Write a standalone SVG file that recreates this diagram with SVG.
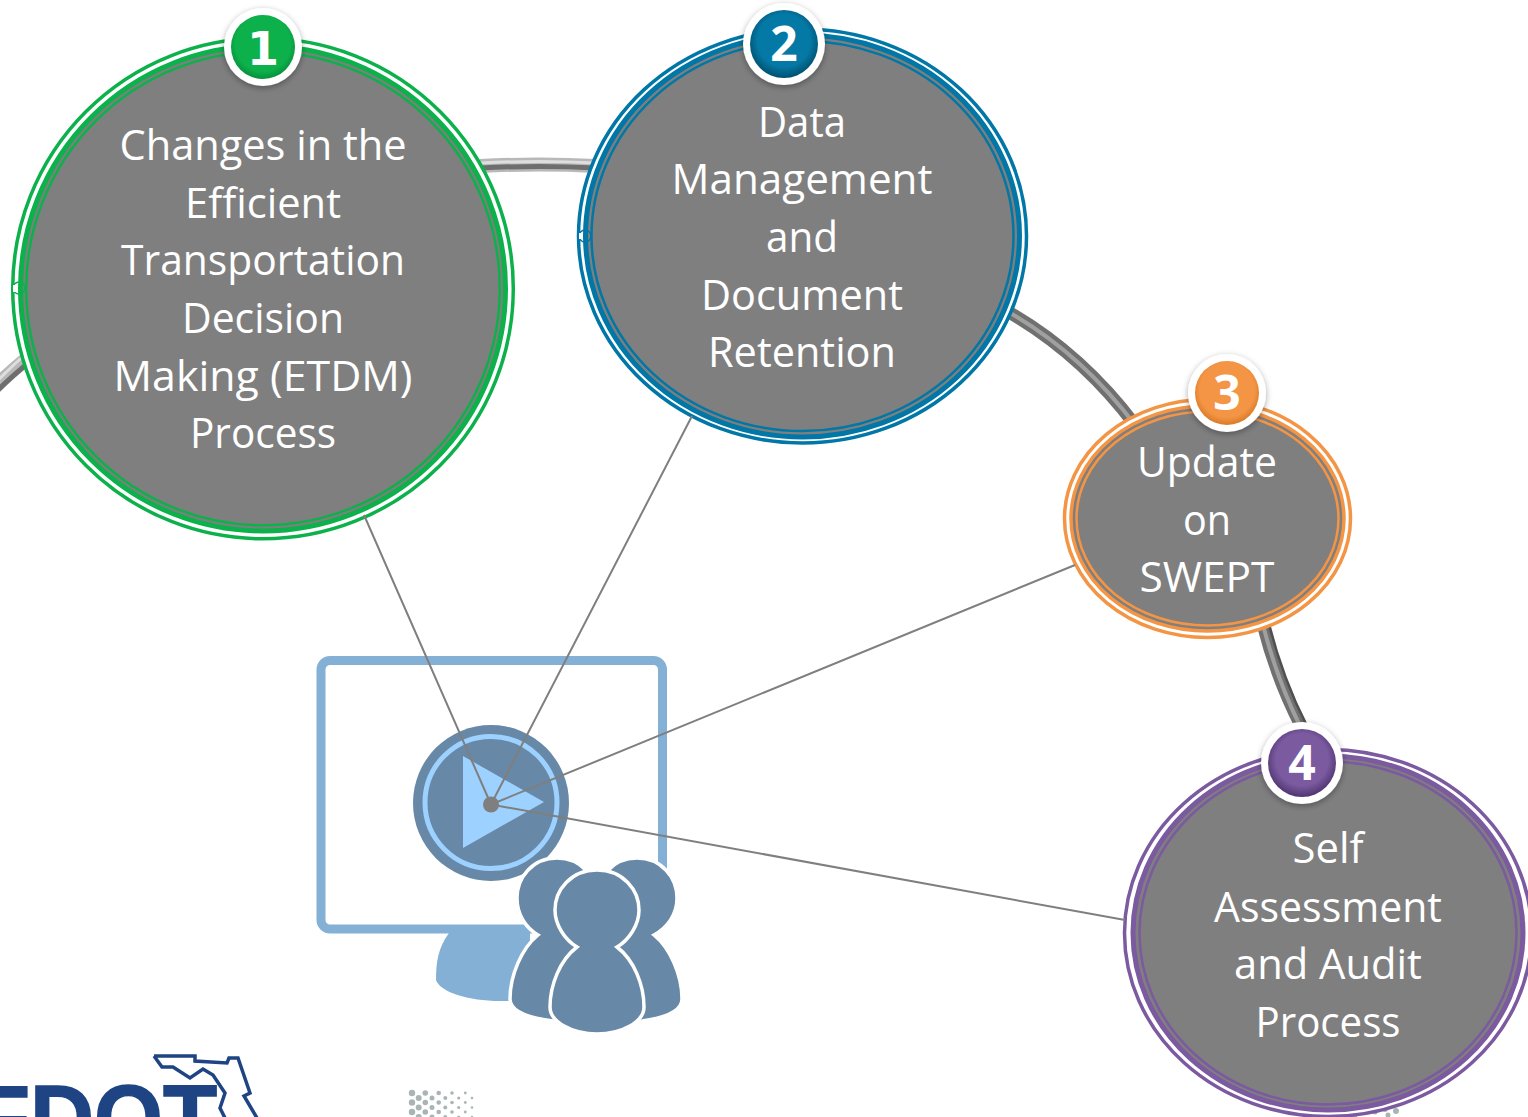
<svg xmlns="http://www.w3.org/2000/svg" width="1528" height="1117" viewBox="0 0 1528 1117">
<style>
.t{font-family:"Open Sans","Noto Sans",sans-serif;font-size:41.500px;fill:#fff;text-anchor:middle}
.n{font-family:"Open Sans",sans-serif;font-weight:700;font-size:48px;fill:#fff;text-anchor:middle}
.n1{font-family:"DejaVu Sans",sans-serif;font-weight:700;font-size:46px;fill:#fff;text-anchor:middle}
.lead{stroke:#7f7f7f;stroke-width:2;fill:none}
.a{stroke:#b8b8b8;stroke-width:14;fill:none}
.b{stroke:#dedede;stroke-width:3;fill:none}
.c{stroke:#6e6e6e;stroke-width:5;fill:none}
.d{stroke:#707070;stroke-width:12.500;fill:none}
.e{stroke:#a0a0a0;stroke-width:4;fill:none}
.f{stroke:#505050;stroke-width:2.500;fill:none}
.user{fill:#6788a6;stroke:#fff;stroke-width:3.500}
.dot{fill:#a9b5b5}
.gray{fill:#7f7f7f}
</style>
<defs>
<filter id="sh" x="-30%" y="-30%" width="160%" height="160%"><feDropShadow dx="0" dy="2" stdDeviation="3" flood-color="#000" flood-opacity=".35"/></filter>
<radialGradient id="g1" cx=".5" cy=".45" r=".55"><stop offset=".78" stop-color="#0db14b"/><stop offset="1" stop-color="#07903b"/></radialGradient>
<radialGradient id="g2" cx=".5" cy=".45" r=".55"><stop offset=".7" stop-color="#0579a6"/><stop offset="1" stop-color="#00506f"/></radialGradient>
<radialGradient id="g3" cx=".5" cy=".45" r=".55"><stop offset=".78" stop-color="#f39545"/><stop offset="1" stop-color="#d97a28"/></radialGradient>
<radialGradient id="g4" cx=".5" cy=".45" r=".55"><stop offset=".7" stop-color="#7b5aa0"/><stop offset="1" stop-color="#4f3570"/></radialGradient>
</defs>
<g id="logo">
<text x="-24" y="1150" font-family="Liberation Sans,sans-serif" font-weight="700" font-size="92" fill="#1f4484" stroke="#1f4484" stroke-width="1.500" textLength="241" lengthAdjust="spacingAndGlyphs">FDOT</text>
<path d="M154 1056H195V1061L227 1063 229 1058H238L250 1093 244 1096 257 1118M154 1056L162 1067H173L190 1078 203 1069 213 1075 225 1093 220 1108 225 1118" fill="none" stroke="#1f4484" stroke-width="3.500"/>
</g>
<g id="halftone">
<circle class="dot" cx="412" cy="1093" r="3.200"/><circle class="dot" cx="412" cy="1102.500" r="3.200"/><circle class="dot" cx="412" cy="1112" r="3.200"/>
<circle class="dot" cx="418.700" cy="1098" r="3"/><circle class="dot" cx="418.700" cy="1107.500" r="3"/><circle class="dot" cx="418.700" cy="1117" r="3"/>
<circle class="dot" cx="425.300" cy="1093" r="2.800"/><circle class="dot" cx="425.300" cy="1102.500" r="2.800"/><circle class="dot" cx="425.300" cy="1112" r="2.800"/>
<circle class="dot" cx="432" cy="1098" r="2.500"/><circle class="dot" cx="432" cy="1107.500" r="2.500"/><circle class="dot" cx="432" cy="1117" r="2.500"/>
<circle class="dot" cx="438.700" cy="1093" r="2.300"/><circle class="dot" cx="438.700" cy="1102.500" r="2.300"/><circle class="dot" cx="438.700" cy="1112" r="2.300"/>
<circle class="dot" cx="445.300" cy="1098" r="2"/><circle class="dot" cx="445.300" cy="1107.500" r="2"/><circle class="dot" cx="445.300" cy="1117" r="2"/>
<circle class="dot" cx="452" cy="1093" r="1.800"/><circle class="dot" cx="452" cy="1102.500" r="1.800"/><circle class="dot" cx="452" cy="1112" r="1.800"/>
<circle class="dot" cx="458.700" cy="1098" r="1.600"/><circle class="dot" cx="458.700" cy="1107.500" r="1.600"/><circle class="dot" cx="458.700" cy="1117" r="1.600"/>
<circle class="dot" cx="465.300" cy="1093" r="1.400"/><circle class="dot" cx="465.300" cy="1102.500" r="1.400"/><circle class="dot" cx="465.300" cy="1112" r="1.400"/>
<circle class="dot" cx="472" cy="1098" r="1.300"/><circle class="dot" cx="472" cy="1107.500" r="1.300"/><circle class="dot" cx="472" cy="1117" r="1.300"/>
<circle class="dot" cx="1345" cy="1113" r="2.500"/><circle class="dot" cx="1355" cy="1115" r="2.500"/><circle class="dot" cx="1365" cy="1112" r="2.500"/><circle class="dot" cx="1375" cy="1112" r="2.500"/><circle class="dot" cx="1385" cy="1109" r="3"/><circle class="dot" cx="1396" cy="1111" r="3"/><circle class="dot" cx="1388" cy="1115" r="2.500"/>
<rect x="1303" y="1113" width="22" height="4" fill="#8a8f8f"/><rect x="1325" y="1113" width="5" height="4" fill="#333"/>
</g>
<g id="monitor">
<rect x="321" y="660.500" width="341.500" height="268.500" rx="9" fill="#fff" stroke="#85b0d5" stroke-width="9"/>
<path d="M449 933C438 948 436 962 436 980 440 992 468 1001 500 1001H530V933Z" fill="#85b0d5"/>
<circle cx="491" cy="803" r="78" fill="#6788a6"/>
<circle cx="491" cy="802.500" r="66" fill="none" stroke="#9dd1ff" stroke-width="5"/>
<path d="M463 756L544 802 463 848Z" fill="#9dd1ff"/>
</g>
<g id="users">
<path class="user" d="M637 858C612 858 597 878 597 898 597 915 608 928 620 935 600 945 585 975 585 1000L600 1022 642 1021C670 1017 682 1009 682 999 682 975 670 948 654 935 667 928 677 915 677 898 677 878 662 858 637 858Z"/>
<path class="user" d="M557 858C532 858 517 878 517 898 517 915 526 928 538 935 522 948 510 975 510 999 510 1009 522 1017 553 1021L590 1022 600 1000C600 975 590 945 575 935 587 928 597 915 597 898 597 878 582 858 557 858Z"/>
<path class="user" d="M597 870C571 870 555 890 555 910 555 925 565 940 577 947 560 960 550 985 550 1007 550 1022 572 1034 597 1034 622 1034 644 1022 644 1007 644 985 634 960 617 947 629 940 639 925 639 910 639 890 623 870 597 870Z"/>
</g>
<g id="connectors">
<path class="a" d="M-5 387Q10 372 30 356"/><path class="b" d="M-5 383Q10 368 28 352"/><path class="c" d="M-3 391Q12 376 32 360"/>
<path class="a" d="M480 166Q540 163 596 166"/><path class="b" d="M480 163Q540 160 596 163"/><path class="c" d="M480 168Q540 165 596 168"/>
<path class="d" d="M1005 310Q1080 352 1135 425"/><path class="e" d="M1005 310Q1080 352 1135 425"/>
<path class="d" d="M1263 625Q1277 680 1302 728"/><path class="e" d="M1263 625Q1277 680 1301 728"/><path class="f" d="M1269 624Q1283 679 1307 726"/>
</g>
<g id="node1">
<circle cx="263" cy="288.500" r="250.300" fill="#fff" stroke="#0db14b" stroke-width="3.500"/>
<circle class="gray" cx="263" cy="288.500" r="242.500" stroke="#0db14b" stroke-width="5"/>
<circle cx="263" cy="288.500" r="236.800" fill="none" stroke="#0db14b" stroke-width="2.500"/>
<circle cx="19" cy="288" r="6" fill="none" stroke="#0db14b" stroke-width="1.500"/><rect x="13" y="285" width="3" height="7" fill="#fff"/>
<text class="t" x="263" y="160" textLength="287" lengthAdjust="spacingAndGlyphs">Changes in the</text><text class="t" x="263" y="218" textLength="156" lengthAdjust="spacingAndGlyphs">Efficient</text><text class="t" x="263" y="275" textLength="284" lengthAdjust="spacingAndGlyphs">Transportation</text><text class="t" x="263" y="333" textLength="162" lengthAdjust="spacingAndGlyphs">Decision</text><text class="t" x="263" y="391" textLength="299" lengthAdjust="spacingAndGlyphs">Making (ETDM)</text><text class="t" x="263" y="448" textLength="146" lengthAdjust="spacingAndGlyphs">Process</text>
<g filter="url(#sh)"><circle cx="263" cy="47" r="39" fill="#fff"/></g><circle cx="263" cy="47" r="32" fill="url(#g1)"/><text class="n1" x="263" y="65">1</text>
</g>
<g id="node2">
<ellipse cx="802.500" cy="236" rx="224" ry="207" fill="#fff" stroke="#0077a6" stroke-width="3.500"/>
<ellipse class="gray" cx="802.500" cy="236" rx="217" ry="201" stroke="#0077a6" stroke-width="5"/>
<ellipse cx="802.500" cy="236" rx="211" ry="195" fill="none" stroke="#0077a6" stroke-width="2.500"/>
<circle cx="585" cy="236" r="6" fill="none" stroke="#0077a6" stroke-width="1.500"/><rect x="579" y="233" width="3" height="6" fill="#fff"/>
<text class="t" x="802" y="137" textLength="88" lengthAdjust="spacingAndGlyphs">Data</text><text class="t" x="802" y="194" textLength="261" lengthAdjust="spacingAndGlyphs">Management</text><text class="t" x="802" y="252" textLength="72" lengthAdjust="spacingAndGlyphs">and</text><text class="t" x="802" y="310" textLength="202" lengthAdjust="spacingAndGlyphs">Document</text><text class="t" x="802" y="367" textLength="188" lengthAdjust="spacingAndGlyphs">Retention</text>
<g filter="url(#sh)"><circle cx="784" cy="44" r="41" fill="#fff"/></g><circle cx="784" cy="44" r="34" fill="url(#g2)"/><text class="n" x="784" y="61">2</text>
</g>
<g id="node3">
<ellipse cx="1207.500" cy="518.500" rx="143" ry="119" fill="#fff" stroke="#f39545" stroke-width="3.500"/>
<ellipse class="gray" cx="1207.500" cy="518.500" rx="136.500" ry="112.500" stroke="#f39545" stroke-width="3.500"/>
<ellipse cx="1207.500" cy="518.500" rx="131" ry="107" fill="none" stroke="#f39545" stroke-width="2.500"/>
<text class="t" x="1207" y="477" textLength="140" lengthAdjust="spacingAndGlyphs">Update</text><text class="t" x="1207" y="535" textLength="48" lengthAdjust="spacingAndGlyphs">on</text><text class="t" x="1207" y="592" textLength="135" lengthAdjust="spacingAndGlyphs">SWEPT</text>
<g filter="url(#sh)"><circle cx="1227" cy="393" r="39" fill="#fff"/></g><circle cx="1227" cy="393" r="32" fill="url(#g3)"/><text class="n" x="1227" y="410">3</text>
</g>
<g id="node4">
<ellipse cx="1328" cy="933" rx="203.500" ry="183.500" fill="#fff" stroke="#7b5aa0" stroke-width="3.500"/>
<ellipse class="gray" cx="1328" cy="933" rx="195" ry="177" stroke="#7b5aa0" stroke-width="5"/>
<ellipse cx="1328" cy="933" rx="188.500" ry="171.500" fill="none" stroke="#7b5aa0" stroke-width="2.500"/>
<text class="t" x="1328" y="863" textLength="71" lengthAdjust="spacingAndGlyphs">Self</text><text class="t" x="1328" y="922" textLength="228" lengthAdjust="spacingAndGlyphs">Assessment</text><text class="t" x="1328" y="979" textLength="188" lengthAdjust="spacingAndGlyphs">and Audit</text><text class="t" x="1328" y="1037" textLength="145" lengthAdjust="spacingAndGlyphs">Process</text>
<g filter="url(#sh)"><circle cx="1302" cy="763" r="41" fill="#fff"/></g><circle cx="1302" cy="763" r="34" fill="url(#g4)"/><text class="n" x="1302" y="780">4</text>
</g>
<g id="leaders">
<path class="lead" d="M491 804.500L364 515M491 804.500L692 416M491 804.500L1075 565M491 804.500L1125 920"/>
<circle cx="491" cy="804.500" r="8" fill="#7f7f7f"/>
</g>
</svg>
